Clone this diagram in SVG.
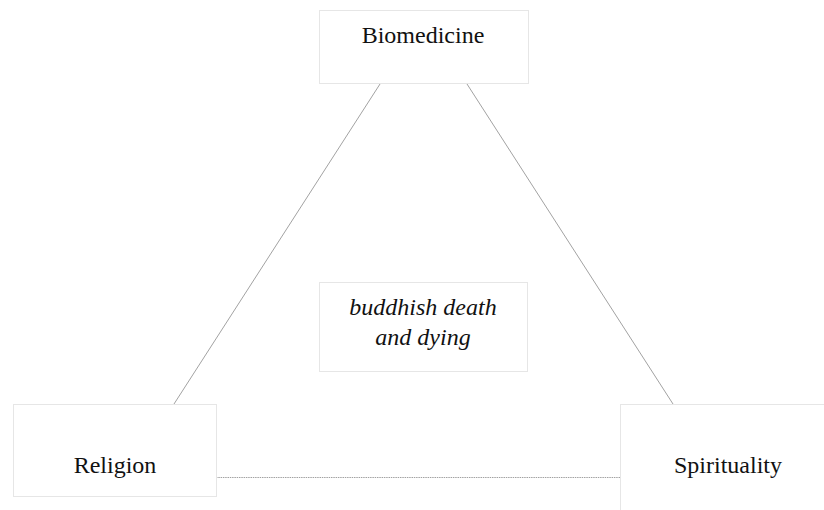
<svg xmlns="http://www.w3.org/2000/svg" width="824" height="510" viewBox="0 0 824 510">
<style>
.box{fill:#fff;stroke:#e6e6e6;stroke-width:1}
.t{font-family:"Liberation Serif","Times New Roman",serif;font-size:24px;fill:#111;text-anchor:middle}
.i{font-style:italic}
.c{stroke:#8a8a8a;stroke-width:0.8;fill:none}
</style>
<rect width="824" height="510" fill="#fff"/>
<g id="connectors">
<line class="c" x1="380" y1="84" x2="174" y2="404"/>
<line class="c" x1="467" y1="84" x2="673" y2="404"/>
<line class="c" x1="216" y1="477.5" x2="620" y2="477.5" stroke-dasharray="1.5 0.8"/>
</g>
<g id="biomedicine">
<rect class="box" x="319.5" y="10.5" width="209" height="73"/>
<text class="t" x="423" y="43">Biomedicine</text>
</g>
<g id="religion">
<rect class="box" x="13.5" y="404.5" width="203" height="92"/>
<text class="t" x="115" y="473">Religion</text>
</g>
<g id="spirituality">
<rect class="box" x="620.5" y="404.5" width="210" height="110"/>
<text class="t" x="728" y="473">Spirituality</text>
</g>
<g id="center">
<rect class="box" x="319.5" y="282.5" width="208" height="89"/>
<text class="t i" x="423" y="315">buddhish death</text>
<text class="t i" x="423" y="345">and dying</text>
</g>
</svg>
